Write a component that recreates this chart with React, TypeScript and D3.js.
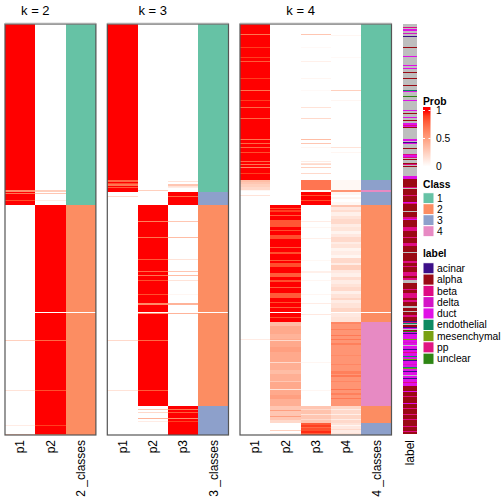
import React from "react";
import * as d3 from "d3";

type Seg = [number, number];
type LSeg = [number, string];

const N_ROWS = 411;

// ---- k = 2 ----
const k2p1: Seg[] = [[166,1],[2,0.6],[1,1],[1,0.7],[6,1],[1,0.85],[4,1],[135,0],[1,0.25],[49,0],[1,0.15],[34,0],[1,0.1],[8,0],[1,0.3]];
const k2p2: Seg[] = [[166,0],[2,0.25],[1,0],[1,0.3],[6,0],[1,0.1],[4,0],[107,1],[1,0],[27,1],[1,0.75],[49,1],[1,0.85],[34,1],[1,0.9],[8,1],[1,0.7]];
const k2cls: Seg[] = [[181,1],[107,2],[1,0],[122,2]];

// ---- k = 3 ----
const k3p1: Seg[] = [[156,1],[2,0.75],[1,1],[1,0.85],[2,0.7],[1,1],[1,0.8],[4,1],[4,0],[1,0.2],[143,0],[1,0.2],[49,0],[1,0.15],[44,0]];
const k3p2: Seg[] = [[166,0],[1,0.25],[14,0],[16,1],[1,0.65],[15,1],[1,0.7],[21,1],[1,0.8],[11,1],[1,0.75],[3,1],[1,0.7],[4,1],[1,0.85],[13,1],[1,0.85],[8,1],[2,0.6],[7,1],[1,0],[1,0.6],[26,1],[1,0.75],[49,1],[1,0.8],[15,1],[3,0],[1,0.3],[2,0],[1,0.2],[5,0],[1,0.4],[2,0],[1,0.1],[13,0]];
const k3p3: Seg[] = [[157,0],[1,0.15],[2,0],[2,0.3],[1,0.15],[1,0.1],[4,0],[4,1],[1,0.75],[8,1],[16,0],[1,0.3],[15,0],[1,0.35],[21,0],[1,0.15],[11,0],[1,0.3],[3,0],[1,0.35],[4,0],[1,0.15],[13,0],[1,0.05],[8,0],[2,0.4],[8,0],[1,0.4],[92,0],[3,1],[1,0.7],[2,1],[1,0.8],[5,1],[1,0.6],[2,1],[1,0.9],[13,1]];
const k3cls: Seg[] = [[168,1],[13,3],[107,2],[1,0],[93,2],[29,3]];

// ---- k = 4 ----
const k4p1: Seg[] = [[10,1],[1,0.7],[12,1],[1,0.9],[9,1],[1,0.9],[3,1],[1,0.8],[16,1],[1,0.9],[11,1],[1,0.7],[9,1],[1,0.9],[6,1],[1,0.75],[10,1],[1,0.75],[20,1],[1,0.7],[3,1],[1,0.75],[3,1],[1,0.75],[4,1],[1,0.85],[8,1],[1,0.75],[2,1],[1,0.7],[2,1],[1,0.6],[5,1],[1,0.9],[6,1],[2,0.35],[2,0.3],[3,0.25],[3,0.2],[1,0.05],[4,0],[1,0.15],[143,0],[1,0.1],[94,0]];
const k4p2: Seg[] = [[181,0],[3,1],[1,0.85],[1,1],[2,0.9],[3,1],[1,0.8],[4,1],[7,0.82],[3,1],[1,0.85],[4,1],[4,0.85],[8,1],[1,0.8],[4,1],[2,0.85],[6,1],[1,0.8],[2,1],[4,0.85],[6,1],[4,0.8],[3,1],[2,0.85],[5,1],[1,0.8],[5,1],[5,0.8],[4,1],[1,0.85],[4,1],[1,0.8],[4,1],[1,0],[4,1],[1,0.85],[4,1],[4,0.35],[8,0.45],[5,0.4],[1,0.45],[1,0.2],[6,0.45],[5,0.5],[10,0.45],[1,0.2],[7,0.42],[4,0.35],[7,0.42],[1,0.3],[7,0.45],[1,0.15],[5,0.45],[4,0.5],[7,0.42],[4,0.3],[1,0.5],[5,0.3],[1,0.5],[3,0.3],[3,0.2],[7,0],[1,0.25],[2,0],[1,0.1],[1,0]];
const k4p3: Seg[] = [[10,0],[1,0.3],[12,0],[1,0.03],[13,0],[1,0.08],[16,0],[1,0.05],[11,0],[1,0.03],[16,0],[1,0.15],[10,0],[1,0.2],[20,0],[1,0.35],[3,0],[1,0.3],[3,0],[1,0.05],[13,0],[1,0.1],[1,0],[1,0.15],[1,0.2],[2,0],[1,0.25],[5,0],[1,0.2],[6,0],[10,0.7],[2,0.05],[3,1],[1,0.85],[4,1],[1,0.85],[4,1],[16,0],[1,0.1],[5,0],[1,0.05],[10,0],[1,0.08],[21,0],[1,0.04],[10,0],[2,0.08],[7,0],[1,0.05],[13,0],[1,0.05],[8,0],[1,0.1],[10,0],[1,0.12],[47,0],[1,0.05],[27,0],[1,0.05],[15,0],[3,0.3],[1,0.2],[4,0.32],[1,0.15],[4,0.3],[1,0.2],[3,0.3],[2,0.8],[2,0.9],[1,0.75],[3,0.85],[2,0.95],[2,0.8]];
const k4p4: Seg[] = [[11,0],[1,0.05],[21,0],[1,0.03],[32,0],[1,0.25],[9,0],[1,0.05],[46,0],[1,0.15],[4,0],[1,0.05],[27,0],[10,0.04],[2,0.55],[3,0.05],[2,0],[2,0.06],[3,0],[3,0.04],
  [2,0.3],[3,0.12],[2,0.18],[4,0.08],[3,0.15],[5,0.2],[3,0.1],[4,0.14],[3,0.06],[3,0.12],[5,0.2],[2,0.1],[4,0.15],[3,0.06],[4,0.1],[3,0.05],[5,0.2],[2,0.1],[5,0.25],[3,0.12],[4,0.08],[3,0.18],[4,0.1],[3,0.15],[4,0.2],[3,0.08],[4,0.15],[2,0.22],[3,0.1],[5,0.15],[4,0.22],[1,0],[4,0.12],[5,0.15],
  [2,0.62],[5,0.55],[1,0.65],[5,0.55],[1,0.68],[3,0.55],[1,0.68],[3,0.55],[2,0.65],[10,0.55],[1,0.6],[8,0.55],[1,0.62],[6,0.55],[3,0.65],[1,0.55],[2,0.68],[4,0.55],[1,0.62],[7,0.55],[1,0.7],[3,0.55],[2,0.65],[3,0.55],[1,0.68],[7,0.55],
  [3,0.22],[1,0.1],[4,0.2],[1,0.08],[4,0.22],[1,0.1],[3,0.2],
  [2,0.15],[1,0.05],[3,0.12],[1,0.2],[3,0.1],[2,0.15]];
const k4cls: Seg[] = [[156,1],[10,3],[2,4],[13,3],[107,2],[1,0],[9,2],[84,4],[17,2],[12,3]];

// ---- sample label annotation ----
const labelRuns: LSeg[] = [
  [3,"G"],[1,"be"],[1,"G"],[2,"du"],[2,"G"],[1,"de"],[2,"G"],[1,"ac"],[10,"G"],[1,"al"],[8,"G"],[1,"du"],[8,"G"],[1,"du"],[2,"G"],[1,"du"],[3,"G"],[1,"al"],[5,"G"],[1,"al"],[6,"G"],[1,"al"],[4,"G"],[1,"en"],[1,"du"],[4,"G"],[1,"un"],[3,"G"],[1,"du"],[9,"G"],[1,"du"],[2,"G"],[1,"al"],[3,"G"],[1,"du"],[2,"G"],[1,"al"],[2,"G"],[2,"du"],[1,"be"],[1,"du"],[1,"al"],[11,"G"],[2,"du"],[1,"G"],[1,"ac"],[1,"du"],[4,"G"],[1,"al"],[5,"G"],[1,"be"],[2,"du"],[1,"be"],[1,"G"],[1,"al"],[3,"G"],[1,"al"],[1,"be"],[1,"G"],[1,"al"],[9,"G"],[3,"du"],
  [8,"al"],[1,"be"],[1,"G"],[6,"al"],[1,"pp"],[6,"al"],[1,"du"],[1,"be"],[7,"al"],[1,"G"],[5,"al"],[2,"be"],[1,"du"],[7,"al"],[4,"be"],[6,"al"],[1,"pp"],[5,"al"],[3,"be"],[6,"al"],[1,"G"],[8,"al"],[2,"be"],[3,"al"],[1,"be"],[5,"al"],[4,"be"],[2,"al"],[2,"be"],[3,"G"],[6,"al"],[1,"be"],[3,"al"],[5,"be"],[2,"al"],[2,"be"],[4,"al"],[2,"G"],[3,"al"],[1,"G"],[3,"al"],[2,"be"],[4,"al"],
  [1,"ac"],[1,"be"],[1,"en"],[1,"G"],[2,"al"],[1,"ac"],[1,"du"],[1,"G"],[1,"al"],[1,"un"],[1,"du"],[1,"ac"],[2,"du"],
  [3,"du"],[1,"me"],[2,"du"],[1,"de"],[2,"du"],[1,"G"],[3,"du"],[1,"ac"],[2,"du"],[1,"be"],[3,"du"],[1,"en"],[2,"du"],[1,"me"],[1,"ac"],[3,"du"],[1,"de"],[2,"du"],[1,"en"],[1,"me"],[2,"du"],[1,"ac"],[3,"du"],[1,"G"],[2,"du"],[1,"ac"],[3,"du"],[1,"be"],[3,"du"],
  [5,"al"],[1,"du"],[4,"al"],[1,"be"],[6,"al"],[1,"du"],[4,"al"],[1,"be"],[5,"al"],[1,"pp"],[4,"al"],[1,"be"],[6,"al"],[1,"be"],[4,"al"],[1,"be"],[2,"al"]
];

const classNames = ["1", "2", "3", "4"];
const classColors = ["#66C2A5", "#FC8D62", "#8DA0CB", "#E78AC3"];
const labelCodes = ["ac", "al", "be", "de", "du", "en", "me", "pp", "un"];
const labelNames = ["acinar", "alpha", "beta", "delta", "duct", "endothelial", "mesenchymal", "pp", "unclear"];
const labelColors = ["#3C0F88", "#9A0A14", "#DE0C84", "#D414C6", "#E010E6", "#0D8A62", "#7AA012", "#E01582", "#2E8614"];
const naColor = "#BEBEBE";
const probTicks = [0, 0.5, 1];

const FONT = "'Liberation Sans', Arial, Helvetica, sans-serif";

function expand(segs: Seg[]) {
  const out: { start: number; count: number; value: number }[] = [];
  let s = 0;
  for (const [c, v] of segs) {
    out.push({ start: s, count: c, value: v });
    s += c;
  }
  return out;
}

export default function App() {
  const W = 504, H = 504;
  const top = 24, bottom = 435;
  const y = d3.scaleLinear().domain([0, N_ROWS]).range([top, bottom]);
  const probColor = d3.scaleLinear<string>().domain([0, 1]).range(["#FFFFFF", "#FF0000"]).interpolate(d3.interpolateLab);
  const colW = 30.3;

  const panels = [
    { title: "k = 2", x0: 5, probs: [["p1", k2p1], ["p2", k2p2]] as [string, Seg[]][], cls: k2cls, clsName: "2 _classes" },
    { title: "k = 3", x0: 107.3, probs: [["p1", k3p1], ["p2", k3p2], ["p3", k3p3]] as [string, Seg[]][], cls: k3cls, clsName: "3 _classes" },
    { title: "k = 4", x0: 240, probs: [["p1", k4p1], ["p2", k4p2], ["p3", k4p3], ["p4", k4p4]] as [string, Seg[]][], cls: k4cls, clsName: "4 _classes" },
  ];

  const labColor = (code: string) => {
    const i = labelCodes.indexOf(code);
    return i < 0 ? naColor : labelColors[i];
  };

  // legend scale
  const legY = d3.scaleLinear().domain([0, 1]).range([166.5, 110.5]);
  const gradStops = d3.range(0, 1.01, 0.1);

  let lstart = 0;
  const labelRects = labelRuns.map(([c, code], i) => {
    const r = { start: lstart, count: c, code, key: i };
    lstart += c;
    return r;
  });

  return (
    <svg width={W} height={H} style={{ position: "absolute", left: 0, top: 0, background: "#fff" }} fontFamily={FONT}>
      <defs>
        <linearGradient id="probGrad" x1="0" y1={legY(0) } x2="0" y2={legY(1)} gradientUnits="userSpaceOnUse">
          {gradStops.map((t) => (
            <stop key={t} offset={t} stopColor={probColor(t)} />
          ))}
        </linearGradient>
      </defs>
      <rect x={0} y={0} width={W} height={H} fill="#fff" />
      {panels.map((p) => {
        const cols = [...p.probs.map((d) => d[0]), p.clsName];
        const x = d3.scaleBand<string>().domain(cols).range([p.x0, p.x0 + cols.length * colW]);
        const titleX = p.x0 + (p.probs.length * colW) / 2;
        return (
          <g key={p.title}>
            <text x={titleX} y={15} fontSize={13} textAnchor="middle" fill="#000">{p.title}</text>
            {p.probs.map(([name, segs]) => (
              <g key={name}>
                {expand(segs).map((s, i) => (
                  <rect key={i} x={x(name)!} y={y(s.start)} width={x.bandwidth()} height={y(s.start + s.count) - y(s.start)} fill={probColor(s.value)} shapeRendering="crispEdges" />
                ))}
              </g>
            ))}
            {expand(p.cls).map((s, i) => (
              <rect key={"c" + i} x={x(p.clsName)!} y={y(s.start)} width={x.bandwidth()} height={y(s.start + s.count) - y(s.start)} fill={s.value === 0 ? "#FFFFFF" : classColors[s.value - 1]} shapeRendering="crispEdges" />
            ))}
            <rect x={p.x0} y={top} width={cols.length * colW} height={bottom - top} fill="none" stroke="#555" strokeWidth={1.2} />
            <line x1={p.x0} x2={p.x0 + cols.length * colW} y1={top - 0.5} y2={top - 0.5} stroke="#aaa" strokeWidth={1.5} />
            {cols.map((c) => (
              <text key={c} transform={`translate(${x(c)! + x.bandwidth() / 2},440) rotate(-90)`} textAnchor="end" dy="0.35em" fontSize={12} fill="#000">{c}</text>
            ))}
          </g>
        );
      })}
      {/* label annotation column */}
      <g>
        {labelRects.map((r) => (
          <rect key={r.key} x={403} y={y(r.start)} width={14} height={y(r.start + r.count) - y(r.start)} fill={labColor(r.code)} shapeRendering="crispEdges" />
        ))}
        <text transform="translate(410,440) rotate(-90)" textAnchor="end" dy="0.35em" fontSize={12} fill="#000">label</text>
      </g>
      {/* legends */}
      <g fontSize={10.3}>
        <text x={423} y={104.5} fontWeight="bold">Prob</text>
        <rect x={423} y={107} width={7.5} height={63} fill="url(#probGrad)" />
        {probTicks.map((t) => (
          <g key={t}>
            <line x1={423} x2={425} y1={legY(t)} y2={legY(t)} stroke="#fff" strokeWidth={1} />
            <line x1={428.5} x2={430.5} y1={legY(t)} y2={legY(t)} stroke="#fff" strokeWidth={1} />
            <text x={436} y={legY(t)} dy="0.35em">{t === 0.5 ? "0.5" : String(t)}</text>
          </g>
        ))}
        <text x={423} y={188} fontWeight="bold">Class</text>
        {classNames.map((c, i) => (
          <g key={c}>
            <rect x={423} y={192.7 + i * 11} width={11} height={11} fill={classColors[i]} stroke="#fff" strokeWidth={1} />
            <text x={437} y={192.7 + i * 11 + 5.5} dy="0.35em">{c}</text>
          </g>
        ))}
        <text x={423} y={257} fontWeight="bold">label</text>
        {labelNames.map((n, i) => (
          <g key={n}>
            <rect x={423} y={262.7 + i * 11.3} width={11} height={11.3} fill={labelColors[i]} stroke="#fff" strokeWidth={1} />
            <text x={437} y={262.7 + i * 11.3 + 5.65} dy="0.35em">{n}</text>
          </g>
        ))}
      </g>
    </svg>
  );
}
